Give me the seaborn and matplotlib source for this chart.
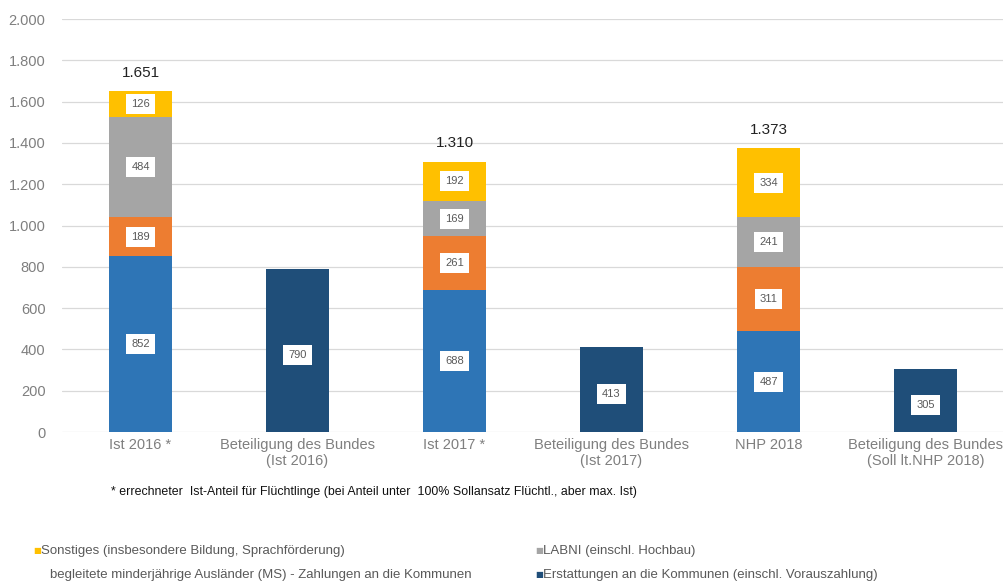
import matplotlib
matplotlib.use("Agg")
import matplotlib.pyplot as plt
import seaborn as sns
import numpy as np
import pandas as pd
from matplotlib.ticker import FuncFormatter

categories = ["Ist 2016 *", "Beteiligung des Bundes\n(Ist 2016)", "Ist 2017 *",
              "Beteiligung des Bundes\n(Ist 2017)", "NHP 2018",
              "Beteiligung des Bundes\n(Soll lt.NHP 2018)"]
erstattungen = [852, np.nan, 688, np.nan, 487, np.nan]
umf = [189, np.nan, 261, np.nan, 311, np.nan]
labni = [484, np.nan, 169, np.nan, 241, np.nan]
sonstiges = [126, np.nan, 192, np.nan, 334, np.nan]
bund = [np.nan, 790, np.nan, 413, np.nan, 305]
totals = [1651, np.nan, 1310, np.nan, 1373, np.nan]
yticks = [0, 200, 400, 600, 800, 1000, 1200, 1400, 1600, 1800, 2000]

legend_labels = ["Sonstiges (insbesondere Bildung, Sprachförderung)",
                 "LABNI (einschl. Hochbau)",
                 "begleitete minderjährige Ausländer (MS) - Zahlungen an die Kommunen",
                 "Erstattungen an die Kommunen (einschl. Vorauszahlung)"]
footnote = "* errechneter  Ist-Anteil für Flüchtlinge (bei Anteil unter  100% Sollansatz Flüchtl., aber max. Ist)"

c_blue = "#2E75B6"
c_orange = "#ED7D31"
c_gray = "#A5A5A5"
c_yellow = "#FFC000"
c_navy = "#1F4E79"

sns.set_style("white")
plt.rcParams['font.family'] = ['Liberation Sans', 'DejaVu Sans']

fig = plt.figure(figsize=(10.04, 5.85), dpi=100)
ax = fig.add_axes([0.0618, 0.2615, 0.9382, 0.706])

df = pd.DataFrame({"cat": categories, "blue": erstattungen, "orange": umf,
                   "gray": labni, "yellow": sonstiges, "navy": bund})
df["c1"] = df["blue"]
df["c2"] = df["c1"] + df["orange"]
df["c3"] = df["c2"] + df["gray"]
df["c4"] = df["c3"] + df["yellow"]

W = 0.4
for col, color in [("c4", c_yellow), ("c3", c_gray), ("c2", c_orange), ("c1", c_blue), ("navy", c_navy)]:
    sns.barplot(data=df, x="cat", y=col, order=categories, color=color,
                width=W, saturation=1, ax=ax, zorder=3, linewidth=0)

box = dict(boxstyle="square,pad=0.45", fc="white", ec="none")
for i in range(len(categories)):
    if not np.isnan(erstattungen[i]):
        segs = [(0, erstattungen[i]), (df["c1"][i], umf[i]), (df["c2"][i], labni[i]), (df["c3"][i], sonstiges[i])]
        for b, v in segs:
            ax.text(i, b + v / 2, f"{int(v)}", ha="center", va="center", fontsize=8,
                    color="#595959", bbox=box, zorder=5)
        t = int(totals[i])
        ax.annotate(f"{t:,}".replace(",", "."), (i, t), xytext=(0, 8), textcoords="offset points",
                    ha="center", va="bottom", fontsize=11, color="#222222")
    if not np.isnan(bund[i]):
        ax.text(i, bund[i] / 2 - 20, f"{int(bund[i])}", ha="center", va="center", fontsize=8,
                color="#595959", bbox=box, zorder=5)

ax.set_ylim(0, 2000)
ax.set_xlim(-0.5, 5.5)
ax.set_yticks(yticks)
ax.yaxis.set_major_formatter(FuncFormatter(lambda v, p: f"{int(v):,}".replace(",", ".")))
ax.grid(axis="y", color="#D9D9D9", linewidth=0.9, zorder=0)
ax.set_axisbelow(True)
for s in ax.spines.values():
    s.set_visible(False)
ax.set_xlabel("")
ax.set_ylabel("")
ax.tick_params(axis="both", length=0, labelsize=10.5, labelcolor="#7F7F7F")
ax.tick_params(axis="y", pad=12)
ax.tick_params(axis="x", pad=4)

fig.text(0.111, 1 - 492 / 585, footnote, fontsize=8.9, color="#111111", va="center", ha="left")

items = [(0.033, 551, c_yellow, legend_labels[0], True),
         (0.533, 551, c_gray, legend_labels[1], True),
         (0.042, 575, c_orange, legend_labels[2], False),
         (0.533, 575, c_navy, legend_labels[3], True)]
for x, y, col, lab, marker in items:
    yy = 1 - y / 585
    if marker:
        fig.text(x, yy, "■", fontsize=6, color=col, va="center", ha="left",
                 family=['DejaVu Sans'])
    fig.text(x + 0.008, yy, lab, fontsize=9.5, color="#595959", va="center", ha="left")

fig.savefig("out.png", dpi=100)
